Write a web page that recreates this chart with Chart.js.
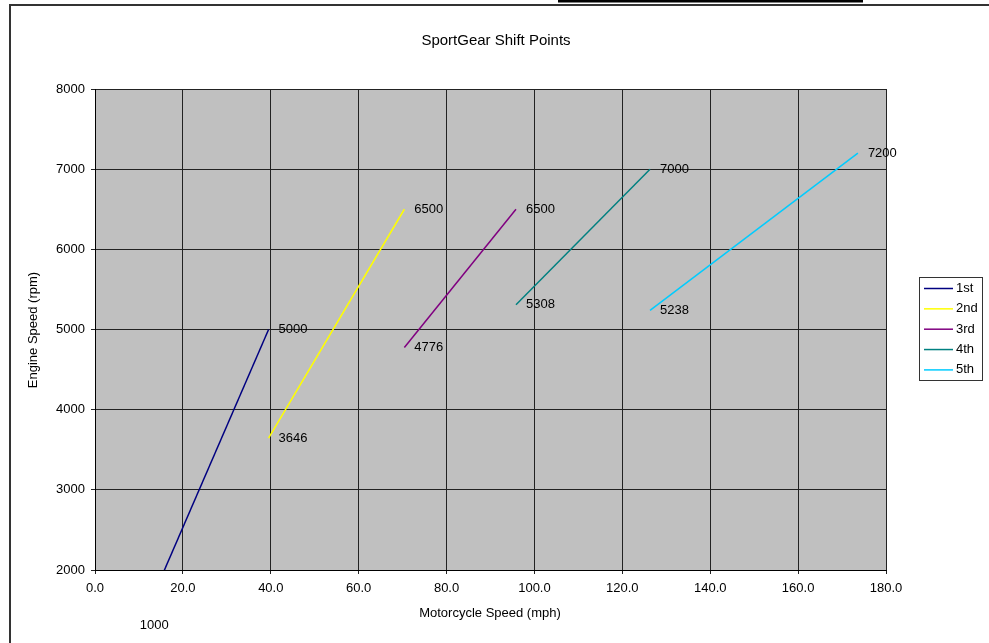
<!DOCTYPE html>
<html>
<head>
<meta charset="utf-8">
<script src="https://cdn.jsdelivr.net/npm/chart.js@4/dist/chart.umd.min.js"></script>
<style>
  body { margin: 0; background: #fff; }
  canvas { display: block; }
</style>
</head>
<body>
<canvas id="shiftChart" width="989" height="643"></canvas>
<script>
// gear data: speed (mph) and engine speed (rpm) at start / shift point
const gears = ["1st", "2nd", "3rd", "4th", "5th"];
const gearSpeeds = [
    [7.9, 39.5],
    [39.5, 70.4],
    [70.4, 95.8],
    [95.8, 126.3],
    [126.3, 173.6]
];
const gearRpms = [
    [1000, 5000],
    [3646, 6500],
    [4776, 6500],
    [5308, 7000],
    [5238, 7200]
];
const gearColors = ["#000080", "#FFFF00", "#800080", "#008080", "#00CCFF"];

const FONT = "Liberation Sans, Arial, sans-serif";

const datasets = gears.map((g, i) => ({
    label: g,
    data: gearSpeeds[i].map((s, j) => ({ x: s, y: gearRpms[i][j] })),
    borderColor: gearColors[i],
    borderWidth: 1.5,
    showLine: true,
    pointRadius: 0,
    fill: false
}));

// frame, plot background, titles
const decorPlugin = {
    id: "decor",
    beforeDraw(chart) {
        const ctx = chart.ctx;
        const a = chart.chartArea;
        ctx.save();
        ctx.fillStyle = "#fff";
        ctx.fillRect(0, 0, chart.width, chart.height);
        // black bar at the very top
        ctx.fillStyle = "#000";
        ctx.fillRect(558, 0, 305, 2.5);
        // outer frame
        ctx.fillStyle = "#333";
        ctx.fillRect(9, 4, chart.width - 9, 2);
        ctx.fillRect(9, 4, 2, chart.height - 4);
        // plot area
        ctx.fillStyle = "#C0C0C0";
        ctx.fillRect(a.left, a.top, a.right - a.left, a.bottom - a.top);
        ctx.restore();
    },
    afterDraw(chart) {
        const ctx = chart.ctx;
        ctx.save();
        ctx.fillStyle = "#000";
        ctx.textBaseline = "middle";
        ctx.textAlign = "center";
        ctx.font = "15px " + FONT;
        ctx.fillText("SportGear Shift Points", 496, 41);
        ctx.font = "13px " + FONT;
        ctx.fillText("Motorcycle Speed (mph)", 490, 613);
        ctx.save();
        ctx.translate(33, 330);
        ctx.rotate(-Math.PI / 2);
        ctx.fillText("Engine Speed (rpm)", 0, 0);
        ctx.restore();

        // data labels
        ctx.textAlign = "left";
        chart.data.datasets.forEach((ds, i) => {
            const meta = chart.getDatasetMeta(i);
            meta.data.forEach((pt, j) => {
                const y = Math.min(pt.y, 625);
                ctx.fillText(String(ds.data[j].y), pt.x + 10, y);
            });
        });

        // legend
        ctx.strokeStyle = "#333";
        ctx.lineWidth = 1;
        ctx.strokeRect(919.5, 277.5, 63, 103);
        chart.data.datasets.forEach((ds, i) => {
            const y = 288.5 + i * 20.35;
            ctx.strokeStyle = ds.borderColor;
            ctx.lineWidth = 1.5;
            ctx.beginPath();
            ctx.moveTo(924, y);
            ctx.lineTo(953, y);
            ctx.stroke();
            ctx.fillText(ds.label, 956, y);
        });
        ctx.restore();
    }
};

new Chart(document.getElementById("shiftChart"), {
    type: "scatter",
    data: { datasets: datasets },
    options: {
        responsive: false,
        animation: false,
        layout: { padding: { left: 0, top: 89, right: 103, bottom: 0 } },
        plugins: {
            legend: { display: false },
            title: { display: false },
            tooltip: { enabled: false }
        },
        scales: {
            x: {
                type: "linear",
                min: 0,
                max: 180,
                afterFit: s => { s.height = 73; },
                ticks: {
                    stepSize: 20,
                    padding: 7,
                    color: "#000",
                    font: { family: FONT, size: 13 },
                    maxRotation: 0,
                    callback: v => v.toFixed(1)
                },
                grid: { color: "#222", lineWidth: 1, tickLength: 4 },
                border: { color: "#000", width: 1 }
            },
            y: {
                type: "linear",
                min: 2000,
                max: 8000,
                afterFit: s => { s.width = 95; },
                ticks: {
                    stepSize: 1000,
                    padding: 6,
                    color: "#000",
                    font: { family: FONT, size: 13 },
                    callback: v => String(v)
                },
                grid: { color: "#222", lineWidth: 1, tickLength: 4 },
                border: { color: "#000", width: 1 }
            }
        }
    },
    plugins: [decorPlugin]
});
</script>
</body>
</html>
